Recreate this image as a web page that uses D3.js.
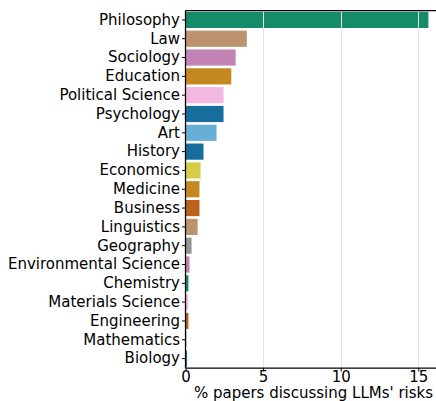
<!DOCTYPE html>
<html>
<head>
<meta charset="utf-8">
<script src="https://cdn.jsdelivr.net/npm/d3@7"></script>
<style>
  html, body { margin: 0; padding: 0; background: #fff; }
  svg { display: block; }
  text { font-family: "DejaVu Sans", sans-serif; fill: #000; }
</style>
</head>
<body>
<svg id="chart" width="436" height="401"></svg>
<script>
const categories = ["Philosophy", "Law", "Sociology", "Education", "Political Science", "Psychology", "Art", "History", "Economics", "Medicine", "Business", "Linguistics", "Geography", "Environmental Science", "Chemistry", "Materials Science", "Engineering", "Mathematics", "Biology"];
const values = [15.65, 3.95, 3.23, 2.95, 2.45, 2.45, 2.0, 1.16, 0.97, 0.9, 0.9, 0.78, 0.39, 0.26, 0.19, 0.17, 0.19, 0.06, 0.1];
const barColors = ["#029e73", "#ca9161", "#cc78bc", "#de8f05", "#fbafe4", "#0173b2", "#56b4e9", "#0173b2", "#ece133", "#de8f05", "#d55e00", "#ca9161", "#949494", "#cc78bc", "#029e73", "#fbafe4", "#d55e00", "#949494", "#0173b2"];
const xTicks = [0, 5, 10, 15];
const xLabel = "% papers discussing LLMs' risks";
const xMax = 16.43;

const svg = d3.select("#chart");
const W = 436, H = 401;
const x0 = 185.5, x1 = 440.5;
const y0 = 10.5, y1 = 368;
const fontSize = 15;

const x = d3.scaleLinear().domain([0, xMax]).range([x0, x1]);
const y = d3.scaleBand().domain(categories).range([y0, y1]).paddingInner(0.14).paddingOuter(0.07);

function desat(c) {
  const h = d3.hsl(c);
  h.s *= 0.75;
  return h.formatHex();
}

const data = categories.map((c, i) => ({ c, v: values[i], col: barColors[i] }));

svg.append("g").selectAll("rect").data(data).join("rect")
  .attr("x", x(0))
  .attr("y", d => y(d.c))
  .attr("width", d => x(d.v) - x(0))
  .attr("height", y.bandwidth())
  .attr("fill", d => desat(d.col));

// gridlines
svg.append("g").selectAll("line").data(xTicks.filter(t => t > 0)).join("line")
  .attr("x1", d => Math.round(x(d)) + 0.5).attr("x2", d => Math.round(x(d)) + 0.5)
  .attr("y1", y0).attr("y2", y1)
  .attr("stroke", "#e4e4e4").attr("stroke-width", 1);

// x axis
const xAxis = d3.axisBottom(x).tickValues(xTicks).tickSize(3.5).tickPadding(2).tickFormat(d3.format("d"));
const gx = svg.append("g").attr("transform", `translate(0,${y1})`).call(xAxis);
gx.select(".domain").remove();
gx.selectAll("line").attr("stroke", "#000").attr("stroke-width", 1);
gx.selectAll("text").attr("font-size", fontSize).attr("font-family", "DejaVu Sans")
  .attr("y", 13.5).attr("dy", null);

// y axis
const yAxis = d3.axisLeft(y).tickSize(3.5).tickPadding(2);
const gy = svg.append("g").attr("transform", `translate(${x0},0)`).call(yAxis);
gy.select(".domain").remove();
gy.selectAll("line").attr("stroke", "#000").attr("stroke-width", 1);
gy.selectAll("text").attr("font-size", fontSize).attr("font-family", "DejaVu Sans");

// spines
svg.append("line").attr("x1", x0).attr("x2", x0).attr("y1", y0).attr("y2", y1).attr("stroke", "#000").attr("stroke-width", 1.25);
svg.append("line").attr("x1", x0).attr("x2", x1).attr("y1", y1).attr("y2", y1).attr("stroke", "#000").attr("stroke-width", 1.25);
svg.append("line").attr("x1", x0).attr("x2", x1).attr("y1", y0).attr("y2", y0).attr("stroke", "#000").attr("stroke-width", 1.25);

// x label
svg.append("text")
  .attr("x", 313.5).attr("y", 397.5)
  .attr("text-anchor", "middle")
  .attr("font-size", fontSize)
  .text(xLabel);
</script>
</body>
</html>
